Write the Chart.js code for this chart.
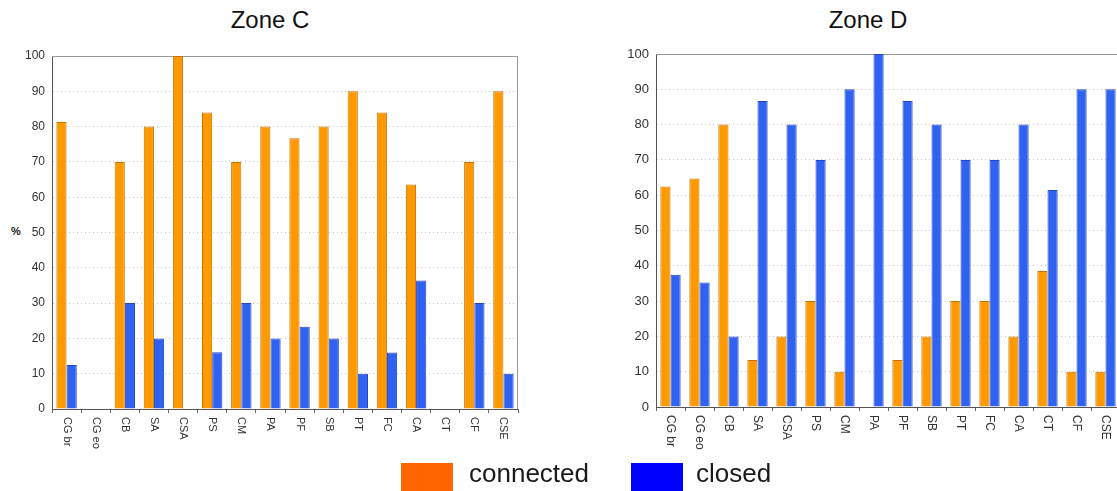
<!DOCTYPE html>
<html lang="en">
<head>
<meta charset="utf-8">
<title>Zone C / Zone D</title>
<script src="https://cdn.jsdelivr.net/npm/chart.js@4.4.1/dist/chart.umd.min.js"></script>
<style>
  html, body { margin: 0; padding: 0; background: #fff; overflow: hidden; width: 1117px; height: 491px;
               font-family: "Liberation Sans", Arial, sans-serif; }
  canvas { position: absolute; top: 0; }
  .title { position: absolute; top: 6px; font-size: 24px; color: #111; text-align: center; }
  .pct { position: absolute; left: 11px; top: 225px; font-size: 11px; font-weight: bold; color: #222; }
  .swatch { position: absolute; top: 463px; width: 52px; height: 30px; }
  .lbl { position: absolute; top: 458px; font-size: 26px; color: #1a1a1a; }
</style>
</head>
<body>

<div class="title" style="left:170px;width:200px">Zone C</div>
<div class="title" style="left:768px;width:200px">Zone D</div>
<div class="pct">%</div>

<canvas id="zoneC" width="540" height="460" style="left:0"></canvas>
<canvas id="zoneD" width="520" height="460" style="left:620px"></canvas>

<div class="swatch" style="left:401px;background:#ff6600"></div>
<div class="lbl" style="left:469px">connected</div>
<div class="swatch" style="left:631px;background:#0000ff"></div>
<div class="lbl" style="left:696px">closed</div>

<script>
// categories + values (%)
const categories = ['CG br', 'CG eo', 'CB', 'SA', 'CSA', 'PS', 'CM', 'PA', 'PF', 'SB', 'PT', 'FC', 'CA', 'CT', 'CF', 'CSE'];

const zoneCConnected = [81.3, 0, 70, 80, 100, 84, 70, 80, 76.7, 80, 90, 84, 63.6, 0, 70, 90];
const zoneCClosed    = [12.5, 0, 30, 20, 0, 16.1, 30, 20, 23.3, 20, 10, 16, 36.4, 0, 30, 10];

const zoneDConnected = [62.5, 64.7, 80, 13.3, 20, 30, 10, 0, 13.3, 20, 30, 30, 20, 38.5, 10, 10];
const zoneDClosed    = [37.5, 35.3, 20, 86.7, 80, 70, 90, 100, 86.7, 80, 70, 70, 80, 61.5, 90, 90];

const yMin = 0, yMax = 100, yStep = 10;

// vertical category labels (rotated clockwise, like the original)
const verticalLabels = {
    id: 'verticalLabels',
    afterDraw(chart, args, opts) {
        const s = chart.scales.x;
        const ctx = chart.ctx;
        ctx.save();
        ctx.font = opts.size + 'px "Liberation Sans", Arial, sans-serif';
        ctx.fillStyle = '#333';
        ctx.textAlign = 'left';
        ctx.textBaseline = 'middle';
        chart.data.labels.forEach((lab, i) => {
            ctx.save();
            ctx.translate(s.getPixelForTick(i), s.top + 8);
            ctx.rotate(Math.PI / 2);
            ctx.fillText(lab, 0, 0);
            ctx.restore();
        });
        ctx.restore();
    }
};

// light frame on top and right of plot
const frame = {
    id: 'frame',
    beforeDatasetsDraw(chart) {
        const a = chart.chartArea, ctx = chart.ctx;
        ctx.save();
        ctx.strokeStyle = '#999';
        ctx.lineWidth = 1;
        ctx.beginPath();
        ctx.moveTo(a.left, a.top + 0.5);
        ctx.lineTo(a.right - 0.5, a.top + 0.5);
        ctx.lineTo(a.right - 0.5, a.bottom);
        ctx.stroke();
        ctx.restore();
    }
};

function makeChart(id, connected, closed, pad, yWidth, xHeight, fontSize) {
    return new Chart(document.getElementById(id), {
        type: 'bar',
        data: {
            labels: categories,
            datasets: [{
                label: 'connected',
                data: connected,
                backgroundColor: '#ff9900',
                borderColor: '#c47500',
                borderWidth: 1,
                categoryPercentage: 0.7,
                barPercentage: 1.0
            }, {
                label: 'closed',
                data: closed,
                backgroundColor: '#3062f2',
                borderColor: '#2346c4',
                borderWidth: 1,
                categoryPercentage: 0.7,
                barPercentage: 1.0
            }]
        },
        options: {
            responsive: false,
            animation: false,
            layout: { padding: pad },
            plugins: {
                legend: { display: false },
                title: { display: false },
                tooltip: { enabled: false },
                verticalLabels: { size: fontSize - 1 }
            },
            scales: {
                x: {
                    ticks: { display: false },
                    grid: { display: true, drawOnChartArea: false, drawTicks: true, tickLength: 4, color: '#666', offset: true },
                    border: { color: '#555', width: 1 },
                    afterFit: (s) => { s.height = xHeight; }
                },
                y: {
                    min: yMin,
                    max: yMax,
                    ticks: { stepSize: yStep, padding: 7, color: '#333',
                             font: { size: fontSize, family: '"Liberation Sans", Arial, sans-serif' } },
                    grid: { color: '#c4c4c4', drawTicks: false },
                    border: { color: '#555', width: 1, dash: [1, 3] },
                    afterFit: (s) => { s.width = yWidth; }
                }
            }
        },
        plugins: [verticalLabels, frame]
    });
}

makeChart('zoneC', zoneCConnected, zoneCClosed, { top: 56, right: 22, bottom: 0, left: 0 }, 52, 51, 12);
makeChart('zoneD', zoneDConnected, zoneDClosed, { top: 54, right: 20, bottom: 0, left: 0 }, 36, 53, 13);
</script>
</body>
</html>
